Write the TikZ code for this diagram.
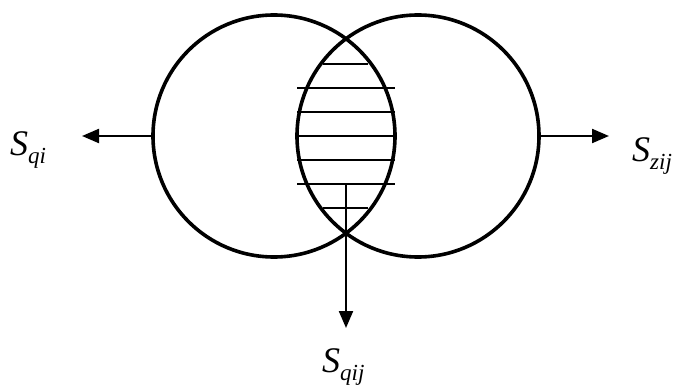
\documentclass[tikz,border=0pt]{standalone}
\usepackage{fontspec}
\setmainfont{Liberation Serif}
\usetikzlibrary{arrows.meta,positioning}
\newcommand{\flux}[1]{\textit{S}\raisebox{-8pt}{\fontsize{23}{23}\selectfont\textit{#1}}}

\begin{document}
\begin{tikzpicture}[x=1pt,y=-1pt,
  ring/.style={circle,draw,line width=3.6pt,minimum size=242pt,inner sep=0pt},
  lbl/.style={anchor=base west,inner sep=0pt,font=\fontsize{36}{38}\selectfont},
  hatch/.style={line width=1.4pt},
  arr/.style={-{Triangle[length=17pt,width=14pt]},line width=2.2pt}]
  \useasboundingbox (0,0) rectangle (678,385);
  \node[ring] (left) at (274,136) {};
  \node[ring] (right) at (418,136) {};
  \foreach \y in {88,112,136,160,184} \draw[hatch] (297,\y) -- (395,\y);
  \foreach \y in {64,208} \draw[hatch] (323,\y) -- (368,\y);
  \coordinate (mid) at (346,184);
  \coordinate (tipL) at (82,136);
  \coordinate (tipR) at (609,136);
  \coordinate (tipD) at (346,328);
  \node[lbl] (sqi) at (10,156) {\flux{qi}};
  \node[lbl] (szij) at (632,161.7) {\flux{zij}};
  \node[lbl] (sqij) at (322,372.3) {\flux{qij}};
  \draw[arr] (left.west) -- (tipL);
  \draw[arr] (right.east) -- (tipR);
  \draw[arr] (mid) -- (tipD);
\end{tikzpicture}
\end{document}
